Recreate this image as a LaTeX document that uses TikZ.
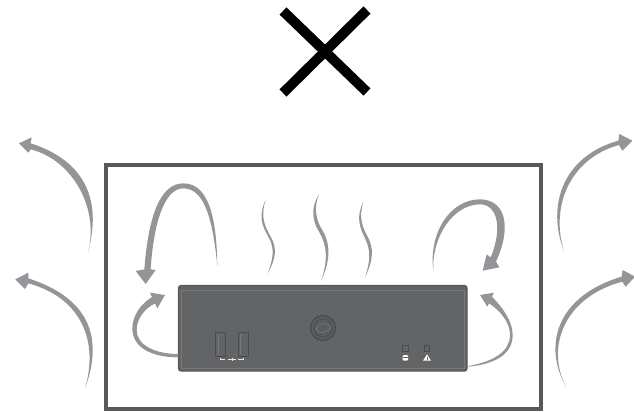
\documentclass[tikz,border=0pt]{standalone}
\definecolor{flow}{HTML}{939598}
\definecolor{body}{HTML}{636466}
\definecolor{rim}{HTML}{58595B}
\definecolor{inrim}{HTML}{77787B}
\definecolor{deep}{HTML}{4A4B4D}
\tikzset{
  x=0.75pt,y=-0.75pt,
  flowfill/.style={fill=flow},
  zoomA/.style={shift={(100,160)},scale=1/3},
  zoomB/.style={shift={(340,160)},scale=1/3},
  zoomL/.style={shift={(0,120)},scale=1/3},
  zoomR/.style={shift={(540,120)},scale=1/3},
  zoomM/.style={shift={(295,185)},scale=1/3},
  port/.style={draw=deep,line width=0.7pt,fill=body},
  led/.style={draw=deep,line width=0.6pt},
  usbline/.style={draw=white!85!body,line width=0.5pt},
}
\begin{document}
\begin{tikzpicture}
\useasboundingbox (0,0) rectangle (634,411);
% cross
\draw[line width=7.5pt,black] (283,11) -- (367,92);
\draw[line width=7.5pt,black] (367,10) -- (283,93);
% enclosure
\draw[line width=3pt,rim] (106,164.5) rectangle (540.5,408.5);
% unit
\fill[body,draw=rim,line width=1pt,rounded corners=2pt] (178.5,285.5) rectangle (467,371);
\draw[inrim,line width=0.5pt] (181,290) rectangle (464,368.5);
\draw[deep,line width=0.9pt,fill=body!92!black] (323,328) circle (12.5);
\draw[deep,line width=0.6pt] (323,328) circle (9);
\draw[inrim,line width=0.5pt] (316,329) .. controls (320,322) and (327,322) .. (331,327) .. controls (327,333) and (320,335) .. (316,329);
\draw[port] (215.5,332.5) rectangle (225.5,356.5);
\draw[inrim,line width=0.4pt] (218,334) -- (218,355);
\draw[port] (238,332.5) rectangle (248.5,356.5);
\draw[inrim,line width=0.4pt] (240.5,334) -- (240.5,355);
\draw[usbline] (220,357.5) -- (220,359.5) -- (225,359.5);
\draw[usbline] (228,359.5) -- (236,359.5);
\draw[usbline] (232,357.5) -- (232,361);
\draw[usbline] (238,359.5) -- (243.5,359.5) -- (243.5,357.5);
\draw[led] (402.5,345.5) rectangle (408,351);
\draw[led] (424.2,345.5) rectangle (429.7,351);
\fill[white,rounded corners=0.8pt] (402.7,355) rectangle (408,360.7);
\draw[body,line width=0.4pt] (402.7,356.8) -- (408,356.8);
\fill[white] (427,354.4) -- (431,360.7) -- (423,360.7) -- cycle;
\draw[body,line width=0.4pt] (427,356.5) -- (427,359.5);
% arrows inside, left
\begin{scope}[zoomA]
\fill[flowfill] (352,318) .. controls (350,200) and (335,70) .. (250,70) .. controls (180,70) and (145,170) .. (133,328) -- (107,333) -- (137,372) -- (167,330) -- (152,328) .. controls (160,200) and (190,85) .. (250,85) .. controls (320,85) and (340,200) .. (352,318) -- cycle;
\fill[flowfill] (235,592) .. controls (150,592) and (97,560) .. (97,505) .. controls (97,465) and (125,430) .. (156,411) -- (150,398) -- (195,405) -- (172,445) -- (165,430) .. controls (135,445) and (110,475) .. (110,510) .. controls (110,555) and (165,582) .. (235,582) -- cycle;
\fill[flowfill] (497,118) .. controls (475,170) and (485,195) .. (505,230) .. controls (525,265) and (520,295) .. (503,340) .. controls (528,295) and (532,265) .. (512,230) .. controls (492,195) and (482,170) .. (497,118) -- cycle;
\end{scope}
% arrows inside, right
\begin{scope}[zoomB]
\fill[flowfill] (280,332) .. controls (265,220) and (330,118) .. (420,118) .. controls (490,118) and (520,190) .. (468,305) -- (478,322) -- (428,332) -- (440,283) -- (452,292) .. controls (490,200) and (470,133) .. (420,133) .. controls (340,133) and (275,230) .. (280,332) -- cycle;
\fill[flowfill] (385,620) .. controls (470,612) and (518,580) .. (518,525) .. controls (518,485) and (490,445) .. (456,410) -- (462,398) -- (420,405) -- (442,440) -- (447,430) .. controls (485,455) and (510,490) .. (510,525) .. controls (510,575) and (460,605) .. (385,618) -- cycle;
\fill[flowfill] (70,125) .. controls (48,170) and (58,200) .. (75,235) .. controls (92,270) and (92,300) .. (75,352) .. controls (100,300) and (102,265) .. (83,230) .. controls (66,200) and (56,170) .. (70,125) -- cycle;
\end{scope}
\begin{scope}[zoomM]
\fill[flowfill] (72,28) .. controls (48,65) and (50,105) .. (72,140) .. controls (96,180) and (100,225) .. (78,288) .. controls (108,225) and (106,175) .. (82,135) .. controls (62,105) and (56,65) .. (72,28) -- cycle;
\end{scope}
% outside arrows
\begin{scope}[zoomL]
\fill[flowfill] (263,400) .. controls (300,270) and (280,130) .. (92,70) -- (95,52) -- (57,70) -- (85,98) -- (92,88) .. controls (220,120) and (300,270) .. (263,400) -- cycle;
\fill[flowfill] (255,805) .. controls (305,670) and (285,540) .. (85,475) -- (85,458) -- (46,478) -- (75,507) -- (85,490) .. controls (250,535) and (295,670) .. (255,805) -- cycle;
\end{scope}
\begin{scope}[zoomR]
\fill[flowfill] (72,393) .. controls (20,260) and (65,110) .. (235,62) -- (238,42) -- (277,62) -- (247,92) -- (237,75) .. controls (90,115) and (30,260) .. (72,393) -- cycle;
\fill[flowfill] (78,800) .. controls (10,680) and (45,530) .. (245,470) -- (248,450) -- (285,470) -- (257,500) -- (247,485) .. controls (75,530) and (15,680) .. (78,800) -- cycle;
\end{scope}
\end{tikzpicture}
\end{document}
